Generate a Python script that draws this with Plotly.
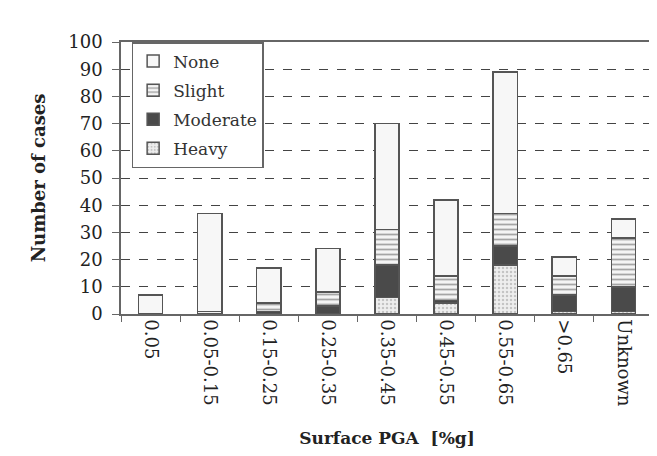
import plotly.graph_objects as go

categories = ["0.05", "0.05-0.15", "0.15-0.25", "0.25-0.35", "0.35-0.45",
              "0.45-0.55", "0.55-0.65", ">0.65", "Unknown"]
heavy = [0, 0, 0, 0, 6, 4, 18, 1, 1]
moderate = [0, 0, 1, 3, 12, 1, 7, 6, 9]
slight = [0, 1, 3, 5, 13, 9, 12, 7, 18]
none = [7, 36, 13, 16, 39, 28, 52, 7, 7]

y_ticks = [0, 10, 20, 30, 40, 50, 60, 70, 80, 90, 100]

edge = dict(color="#555555", width=1.5)
fig = go.Figure()
fig.add_bar(name="Heavy", x=categories, y=heavy, legendgroup="h", legendrank=4,
            marker=dict(color="#e6e6e6", line=edge,
                        pattern=dict(shape=".", fgcolor="#999999", bgcolor="#eeeeee", size=4, solidity=0.3)))
fig.add_bar(name="Moderate", x=categories, y=moderate, legendgroup="m", legendrank=3,
            marker=dict(color="#4a4a4a", line=edge))
fig.add_bar(name="Slight", x=categories, y=slight, legendgroup="s", legendrank=2,
            marker=dict(color="#f4f4f4", line=edge,
                        pattern=dict(shape="-", fgcolor="#555555", bgcolor="#f4f4f4", size=5, solidity=0.35)))
fig.add_bar(name="None", x=categories, y=none, legendgroup="n", legendrank=1,
            marker=dict(color="#f7f7f7", line=edge))

font_family = "DejaVu Serif, Liberation Serif, serif"
fig.update_layout(
    barmode="stack",
    bargap=0.59,
    width=657, height=456,
    margin=dict(l=113, r=10, t=34, b=150),
    paper_bgcolor="#ffffff",
    plot_bgcolor="#ffffff",
    font=dict(family=font_family, size=16, color="#222222"),
    legend=dict(x=0.02, y=1.0, xanchor="left", yanchor="top",
                traceorder="grouped", tracegroupgap=4, bgcolor="#ffffff",
                bordercolor="#666666", borderwidth=1.5,
                font=dict(family=font_family, size=17, color="#333333")),
    xaxis=dict(tickangle=90, showline=True, linecolor="#666666", linewidth=1.5,
               mirror=True, ticks="outside", tickson="boundaries", ticklen=6,
               tickcolor="#666666", tickfont=dict(size=18),
               title=dict(text="<b>Surface PGA  [%g]</b>", font=dict(size=17), standoff=26)),
    yaxis=dict(range=[0, 100], tickvals=y_ticks, showline=True, linecolor="#666666",
               linewidth=1.5, mirror=True, ticks="outside", ticklen=7, tickcolor="#666666",
               ticklabelstandoff=6,
               showgrid=True, gridcolor="#444444", griddash="dash", gridwidth=1,
               tickfont=dict(size=18),
               title=dict(text="<b>Number of cases</b>", font=dict(size=18), standoff=18)),
)
fig.write_html("out.html")
